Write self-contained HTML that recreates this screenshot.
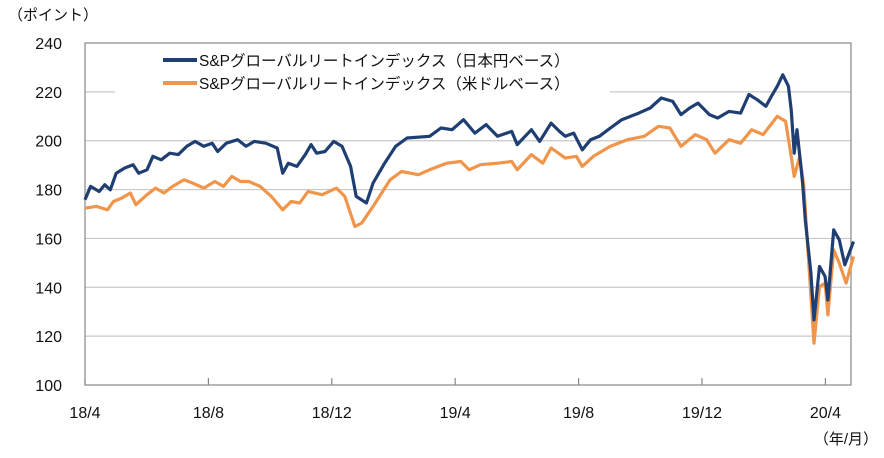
<!DOCTYPE html>
<html><head><meta charset="utf-8"><style>
body{margin:0;background:#fff;}
svg text{font-family:"Liberation Sans","Noto Sans CJK JP",sans-serif;fill:#111;}
</style></head><body>
<svg id="chart" width="884" height="453" viewBox="0 0 884 453" xmlns="http://www.w3.org/2000/svg">
<text x="8" y="20" font-size="15">（ポイント）</text>
<g id="grid"></g>
<rect x="85" y="43" width="766" height="342" fill="none" stroke="#888" stroke-width="1.2"/>
<g id="ylabels"></g><g id="xlabels"></g><g id="series"></g>
<text x="878" y="444" font-size="15" text-anchor="end">（年/月）</text>
<g>
<rect x="115" y="48" width="495" height="48" fill="#fff"/>
<line x1="163" y1="60" x2="197" y2="60" stroke="#1f3f73" stroke-width="4"/>
<text x="199" y="66" font-size="15.5">S&amp;Pグローバルリートインデックス（日本円ベース）</text>
<line x1="163" y1="83" x2="197" y2="83" stroke="#f0954a" stroke-width="4"/>
<text x="199" y="89" font-size="15.5">S&amp;Pグローバルリートインデックス（米ドルベース）</text>
</g>
</svg>
<script>
const yTicks=[100,120,140,160,180,200,220,240];
const xTickLabels=["18/4","18/8","18/12","19/4","19/8","19/12","20/4"];
const xTickMonths=[0,4,8,12,16,20,24];
const jpyMonths=[0,0.18,0.46,0.64,0.82,1.01,1.28,1.56,1.74,2.01,2.2,2.47,2.75,3.02,3.3,3.57,3.85,4.12,4.3,4.58,4.95,5.22,5.49,5.86,6.23,6.41,6.59,6.87,7.14,7.33,7.51,7.78,8.06,8.33,8.61,8.79,9.12,9.34,9.71,10.07,10.44,11.17,11.54,11.9,12.27,12.64,13,13.37,13.83,14.01,14.47,14.74,15.11,15.38,15.57,15.84,16.12,16.39,16.67,17.03,17.4,17.95,18.32,18.68,19.05,19.32,19.6,19.87,20.24,20.51,20.88,21.25,21.52,21.79,22.07,22.25,22.44,22.62,22.8,22.89,22.99,23.08,23.26,23.35,23.53,23.63,23.81,23.99,24.08,24.27,24.45,24.63,24.91];
const jpyValues=[175.8,181.3,179.2,182,179.9,186.7,188.8,190.2,186.7,188.1,193.6,192.2,194.9,194.3,197.7,199.7,197.7,199,195.6,199,200.4,197.7,199.7,199,197,186.7,190.8,189.5,194.3,198.4,194.9,195.6,199.7,197.7,189.5,177.2,174.5,182.7,190.8,197.7,201.1,201.8,205.2,204.5,208.6,203.1,206.6,201.8,203.8,198.4,204.5,199.7,207.2,203.8,201.8,203.1,196.3,200.4,201.8,205.2,208.6,211.3,213.4,217.5,216.1,210.7,213.4,215.4,210.7,209.3,212,211.3,218.9,216.8,214.1,218.2,222.3,227,222.3,212.7,194.9,204.5,182.7,167.6,145.8,126.6,148.5,144.4,134.8,163.5,159.4,149.2,158.7];
const usdMonths=[0,0.37,0.73,0.92,1.19,1.47,1.65,2.01,2.29,2.56,2.84,3.21,3.48,3.85,4.21,4.49,4.76,5.04,5.31,5.68,6.04,6.41,6.68,6.96,7.23,7.69,8.15,8.42,8.75,8.97,9.34,9.89,10.26,10.81,11.17,11.72,12.18,12.45,12.82,13.37,13.83,14.01,14.47,14.84,15.11,15.57,15.93,16.12,16.48,17.03,17.58,18.13,18.59,18.96,19.32,19.78,20.15,20.42,20.88,21.25,21.61,21.98,22.44,22.71,22.89,22.99,23.17,23.3,23.44,23.63,23.81,23.99,24.08,24.27,24.45,24.67,24.91];
const usdValues=[172.4,173.1,171.7,175.1,176.5,178.6,173.8,177.9,180.6,178.6,181.3,184,182.7,180.6,183.3,181.3,185.4,183.3,183.3,181.3,177.2,171.7,175.1,174.5,179.2,177.9,180.6,177.2,164.9,166.3,173.1,184,187.4,186.1,188.1,190.8,191.5,188.1,190.2,190.8,191.5,188.1,194.3,190.8,197,192.9,193.6,189.5,193.6,197.7,200.4,201.8,205.9,205.2,197.7,202.5,200.4,194.9,200.4,199,204.5,202.5,210,207.9,193.6,185.4,193.6,181.3,154,117.1,140.3,141.7,128.7,155.3,149.9,141.7,152.6];
const NS="http://www.w3.org/2000/svg";
const L=85,R=851,T=43,B=385;
const xs=m=>L+m*30.85;
const ys=v=>B-(v-100)*(B-T)/140;
function mk(tag,attrs,parent){const e=document.createElementNS(NS,tag);for(const k in attrs)e.setAttribute(k,attrs[k]);parent.appendChild(e);return e;}
const grid=document.getElementById('grid'),yl=document.getElementById('ylabels'),xl=document.getElementById('xlabels'),sg=document.getElementById('series');
yTicks.forEach(v=>{
 if(v>100&&v<240){const g=mk('line',{x1:L,x2:R,y1:ys(v),y2:ys(v),stroke:'#c8c8c8','stroke-width':1.2},grid);
 
 }
 const t=mk('text',{x:62,y:ys(v)+6,'font-size':16,'text-anchor':'end'},yl);t.textContent=v;
 
 
});
xTickMonths.forEach((m,i)=>{
 const tk=mk('line',{x1:xs(m),x2:xs(m),y1:B,y2:B-7,stroke:'#888','stroke-width':1.2},xl);
 
 
 const t=mk('text',{x:xs(m),y:418,'font-size':16,'text-anchor':'middle'},xl);t.textContent=xTickLabels[i];
 
 
});
function line(ms,vs,color,name){
 const d=ms.map((m,i)=>(i?'L':'M')+xs(m).toFixed(1)+','+ys(vs[i]).toFixed(1)).join('');
 const p=mk('path',{d:d,fill:'none',stroke:color,'stroke-width':3.2,'stroke-linejoin':'round'},sg);
 
 
}
line(usdMonths,usdValues,'#f0954a','usd-series-line');
line(jpyMonths,jpyValues,'#1f3f73','jpy-series-line');
</script>
</body></html>
